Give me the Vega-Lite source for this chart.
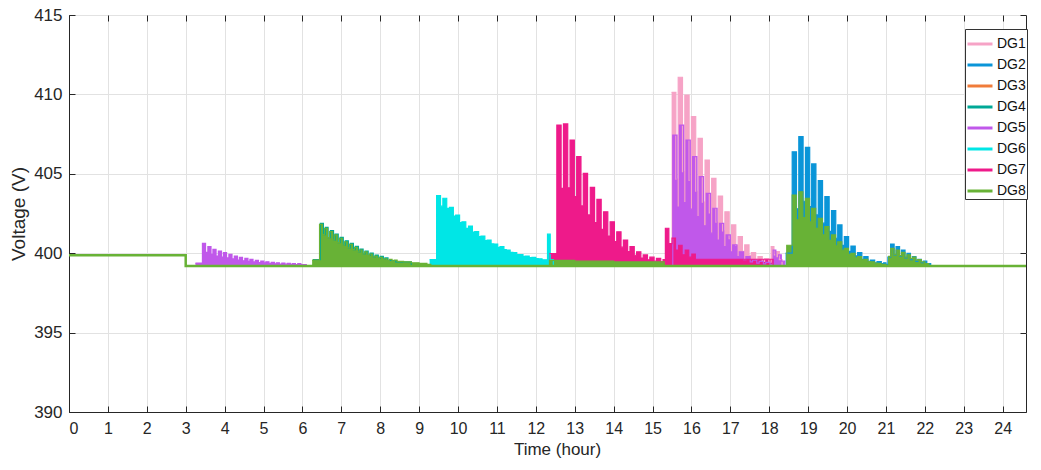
{
  "$schema": "https://vega.github.io/schema/vega-lite/v6.json",
  "width": 957,
  "height": 397,
  "autosize": {"type": "none"},
  "padding": {"left": 69, "top": 15, "right": 15, "bottom": 58},
  "background": "white",
  "config": {
    "view": {"stroke": "#262626", "strokeWidth": 1},
    "font": "Liberation Sans",
    "axis": {
      "labelFont": "Liberation Sans", "titleFont": "Liberation Sans",
      "labelFontSize": 16, "titleFontSize": 17, "titleFontWeight": "normal",
      "labelColor": "#262626", "titleColor": "#262626",
      "gridColor": "#e2e2e2", "gridWidth": 1,
      "domainColor": "#262626", "tickColor": "#262626", "tickSize": -6
    }
  },
  "resolve": {"axis": {"x": "independent", "y": "independent"}},
  "datasets": {
    "ev": [
      {"s":"DG1","t":15.49,"v":410.13},{"s":"DG1","t":15.60,"v":404.67},{"s":"DG1","t":15.66,"v":411.08},{"s":"DG1","t":15.77,"v":405.14},
      {"s":"DG1","t":15.83,"v":409.96},{"s":"DG1","t":15.94,"v":404.58},{"s":"DG1","t":16.00,"v":408.60},{"s":"DG1","t":16.11,"v":403.90},
      {"s":"DG1","t":16.17,"v":407.23},{"s":"DG1","t":16.28,"v":403.22},{"s":"DG1","t":16.35,"v":405.87},{"s":"DG1","t":16.46,"v":402.54},
      {"s":"DG1","t":16.52,"v":404.71},{"s":"DG1","t":16.63,"v":401.96},{"s":"DG1","t":16.69,"v":403.60},{"s":"DG1","t":16.80,"v":401.40},
      {"s":"DG1","t":16.86,"v":402.61},{"s":"DG1","t":16.97,"v":400.91},{"s":"DG1","t":17.03,"v":401.78},{"s":"DG1","t":17.14,"v":400.49},
      {"s":"DG1","t":17.20,"v":401.04},{"s":"DG1","t":17.31,"v":400.12},{"s":"DG1","t":17.37,"v":400.52},{"s":"DG1","t":17.48,"v":399.86},
      {"s":"DG1","t":17.54,"v":400.03},{"s":"DG1","t":17.65,"v":399.62},{"s":"DG1","t":17.71,"v":399.78},{"s":"DG1","t":17.82,"v":399.49},
      {"s":"DG1","t":17.88,"v":399.65},{"s":"DG1","t":17.99,"v":399.43},{"s":"DG1","t":18.05,"v":400.41},{"s":"DG1","t":18.12,"v":399.90},
      {"s":"DG1","t":18.19,"v":400.10},{"s":"DG1","t":18.26,"v":399.60},{"s":"DG1","t":18.33,"v":399.20},

      {"s":"DG2","t":18.42,"v":400.00},{"s":"DG2","t":18.59,"v":406.39},{"s":"DG2","t":18.70,"v":402.80},{"s":"DG2","t":18.76,"v":407.34},
      {"s":"DG2","t":18.87,"v":403.27},{"s":"DG2","t":18.93,"v":406.67},{"s":"DG2","t":19.04,"v":402.94},{"s":"DG2","t":19.09,"v":405.62},
      {"s":"DG2","t":19.20,"v":402.41},{"s":"DG2","t":19.26,"v":404.57},{"s":"DG2","t":19.37,"v":401.89},{"s":"DG2","t":19.43,"v":403.56},
      {"s":"DG2","t":19.54,"v":401.38},{"s":"DG2","t":19.60,"v":402.68},{"s":"DG2","t":19.71,"v":400.94},{"s":"DG2","t":19.76,"v":401.78},
      {"s":"DG2","t":19.87,"v":400.49},{"s":"DG2","t":19.93,"v":401.04},{"s":"DG2","t":20.04,"v":400.12},{"s":"DG2","t":20.10,"v":400.45},
      {"s":"DG2","t":20.21,"v":399.83},{"s":"DG2","t":20.27,"v":400.03},{"s":"DG2","t":20.38,"v":399.62},{"s":"DG2","t":20.43,"v":399.78},
      {"s":"DG2","t":20.54,"v":399.49},{"s":"DG2","t":20.60,"v":399.57},{"s":"DG2","t":20.71,"v":399.39},{"s":"DG2","t":20.77,"v":399.47},
      {"s":"DG2","t":20.88,"v":399.34},{"s":"DG2","t":20.94,"v":399.40},{"s":"DG2","t":21.00,"v":399.30},{"s":"DG2","t":21.05,"v":399.75},
      {"s":"DG2","t":21.12,"v":400.58},{"s":"DG2","t":21.21,"v":399.89},{"s":"DG2","t":21.26,"v":400.41},{"s":"DG2","t":21.35,"v":399.81},
      {"s":"DG2","t":21.40,"v":400.20},{"s":"DG2","t":21.49,"v":399.70},{"s":"DG2","t":21.54,"v":399.99},{"s":"DG2","t":21.63,"v":399.60},
      {"s":"DG2","t":21.68,"v":399.78},{"s":"DG2","t":21.77,"v":399.49},{"s":"DG2","t":21.82,"v":399.62},{"s":"DG2","t":21.91,"v":399.41},
      {"s":"DG2","t":21.96,"v":399.50},{"s":"DG2","t":22.05,"v":399.35},{"s":"DG2","t":22.15,"v":399.20},

      {"s":"DG3","t":3.00,"v":399.20},{"s":"DG3","t":24.60,"v":399.20},

      {"s":"DG4","t":6.27,"v":399.60},{"s":"DG4","t":6.46,"v":401.88},{"s":"DG4","t":6.54,"v":401.17},{"s":"DG4","t":6.59,"v":401.63},
      {"s":"DG4","t":6.66,"v":400.98},{"s":"DG4","t":6.72,"v":401.42},{"s":"DG4","t":6.80,"v":400.82},{"s":"DG4","t":6.84,"v":401.21},
      {"s":"DG4","t":6.92,"v":400.66},{"s":"DG4","t":6.97,"v":401.00},{"s":"DG4","t":7.05,"v":400.51},{"s":"DG4","t":7.10,"v":400.78},
      {"s":"DG4","t":7.18,"v":400.34},{"s":"DG4","t":7.23,"v":400.62},{"s":"DG4","t":7.31,"v":400.22},{"s":"DG4","t":7.36,"v":400.43},
      {"s":"DG4","t":7.44,"v":400.08},{"s":"DG4","t":7.48,"v":400.26},{"s":"DG4","t":7.56,"v":399.95},{"s":"DG4","t":7.61,"v":400.14},
      {"s":"DG4","t":7.69,"v":399.86},{"s":"DG4","t":7.74,"v":400.01},{"s":"DG4","t":7.82,"v":399.76},{"s":"DG4","t":7.87,"v":399.88},
      {"s":"DG4","t":7.95,"v":399.67},{"s":"DG4","t":8.00,"v":399.80},{"s":"DG4","t":8.08,"v":399.61},{"s":"DG4","t":8.12,"v":399.70},
      {"s":"DG4","t":8.20,"v":399.54},{"s":"DG4","t":8.40,"v":399.45},{"s":"DG4","t":8.80,"v":399.20},

      {"s":"DG5","t":3.25,"v":399.38},{"s":"DG5","t":3.43,"v":400.62},{"s":"DG5","t":3.51,"v":400.05},{"s":"DG5","t":3.57,"v":400.41},
      {"s":"DG5","t":3.65,"v":399.93},{"s":"DG5","t":3.70,"v":400.24},{"s":"DG5","t":3.78,"v":399.82},{"s":"DG5","t":3.84,"v":400.14},
      {"s":"DG5","t":3.92,"v":399.76},{"s":"DG5","t":3.97,"v":400.03},{"s":"DG5","t":4.05,"v":399.70},{"s":"DG5","t":4.11,"v":399.93},
      {"s":"DG5","t":4.19,"v":399.64},{"s":"DG5","t":4.25,"v":399.82},{"s":"DG5","t":4.33,"v":399.57},{"s":"DG5","t":4.38,"v":399.74},
      {"s":"DG5","t":4.46,"v":399.52},{"s":"DG5","t":4.52,"v":399.67},{"s":"DG5","t":4.60,"v":399.48},{"s":"DG5","t":4.65,"v":399.61},
      {"s":"DG5","t":4.73,"v":399.45},{"s":"DG5","t":4.79,"v":399.55},{"s":"DG5","t":4.87,"v":399.41},{"s":"DG5","t":4.93,"v":399.51},
      {"s":"DG5","t":5.01,"v":399.39},{"s":"DG5","t":5.06,"v":399.46},{"s":"DG5","t":5.14,"v":399.36},{"s":"DG5","t":5.20,"v":399.42},
      {"s":"DG5","t":5.28,"v":399.33},{"s":"DG5","t":5.33,"v":399.40},{"s":"DG5","t":5.41,"v":399.32},{"s":"DG5","t":5.47,"v":399.38},
      {"s":"DG5","t":5.55,"v":399.31},{"s":"DG5","t":5.61,"v":399.36},{"s":"DG5","t":5.69,"v":399.30},{"s":"DG5","t":5.74,"v":399.35},
      {"s":"DG5","t":5.82,"v":399.29},{"s":"DG5","t":5.88,"v":399.34},{"s":"DG5","t":5.96,"v":399.28},{"s":"DG5","t":6.10,"v":399.20},
      {"s":"DG5","t":15.52,"v":407.44},{"s":"DG5","t":15.63,"v":402.91},{"s":"DG5","t":15.69,"v":408.07},{"s":"DG5","t":15.80,"v":403.19},
      {"s":"DG5","t":15.86,"v":407.13},{"s":"DG5","t":15.97,"v":402.77},{"s":"DG5","t":16.03,"v":406.08},{"s":"DG5","t":16.14,"v":402.30},
      {"s":"DG5","t":16.20,"v":404.82},{"s":"DG5","t":16.31,"v":401.73},{"s":"DG5","t":16.38,"v":403.77},{"s":"DG5","t":16.49,"v":401.26},
      {"s":"DG5","t":16.55,"v":402.83},{"s":"DG5","t":16.66,"v":400.83},{"s":"DG5","t":16.72,"v":401.88},{"s":"DG5","t":16.83,"v":400.41},
      {"s":"DG5","t":16.89,"v":401.15},{"s":"DG5","t":17.00,"v":400.08},{"s":"DG5","t":17.06,"v":400.52},{"s":"DG5","t":17.17,"v":399.79},
      {"s":"DG5","t":17.23,"v":400.09},{"s":"DG5","t":17.34,"v":399.60},{"s":"DG5","t":17.40,"v":399.78},{"s":"DG5","t":17.51,"v":399.46},
      {"s":"DG5","t":17.57,"v":399.57},{"s":"DG5","t":17.68,"v":399.37},{"s":"DG5","t":17.74,"v":399.48},{"s":"DG5","t":17.85,"v":399.33},
      {"s":"DG5","t":17.91,"v":399.42},{"s":"DG5","t":18.02,"v":399.30},{"s":"DG5","t":18.10,"v":400.20},{"s":"DG5","t":18.17,"v":399.70},
      {"s":"DG5","t":18.24,"v":399.90},{"s":"DG5","t":18.31,"v":399.50},{"s":"DG5","t":18.40,"v":399.20},

      {"s":"DG6","t":9.27,"v":399.60},{"s":"DG6","t":9.45,"v":403.62},{"s":"DG6","t":9.55,"v":402.96},{"s":"DG6","t":9.61,"v":403.46},
      {"s":"DG6","t":9.71,"v":402.82},{"s":"DG6","t":9.78,"v":402.89},{"s":"DG6","t":9.88,"v":402.34},{"s":"DG6","t":9.94,"v":402.40},
      {"s":"DG6","t":10.04,"v":401.92},{"s":"DG6","t":10.10,"v":401.98},{"s":"DG6","t":10.20,"v":401.56},{"s":"DG6","t":10.27,"v":401.71},
      {"s":"DG6","t":10.37,"v":401.33},{"s":"DG6","t":10.43,"v":401.36},{"s":"DG6","t":10.53,"v":401.04},{"s":"DG6","t":10.59,"v":401.08},
      {"s":"DG6","t":10.69,"v":400.80},{"s":"DG6","t":10.75,"v":400.83},{"s":"DG6","t":10.85,"v":400.59},{"s":"DG6","t":10.92,"v":400.58},
      {"s":"DG6","t":11.02,"v":400.37},{"s":"DG6","t":11.08,"v":400.41},{"s":"DG6","t":11.18,"v":400.23},{"s":"DG6","t":11.24,"v":400.20},
      {"s":"DG6","t":11.34,"v":400.05},{"s":"DG6","t":11.41,"v":400.03},{"s":"DG6","t":11.51,"v":399.91},{"s":"DG6","t":11.57,"v":399.91},
      {"s":"DG6","t":11.67,"v":399.80},{"s":"DG6","t":11.73,"v":399.82},{"s":"DG6","t":11.83,"v":399.73},{"s":"DG6","t":11.90,"v":399.74},
      {"s":"DG6","t":12.00,"v":399.66},{"s":"DG6","t":12.06,"v":399.65},{"s":"DG6","t":12.16,"v":399.58},{"s":"DG6","t":12.30,"v":401.20},
      {"s":"DG6","t":12.37,"v":399.60},{"s":"DG6","t":12.45,"v":399.20},

      {"s":"DG7","t":12.35,"v":399.98},{"s":"DG7","t":12.54,"v":408.07},{"s":"DG7","t":12.65,"v":404.08},{"s":"DG7","t":12.71,"v":408.14},
      {"s":"DG7","t":12.82,"v":404.12},{"s":"DG7","t":12.88,"v":407.13},{"s":"DG7","t":12.99,"v":403.56},{"s":"DG7","t":13.05,"v":406.08},
      {"s":"DG7","t":13.16,"v":402.98},{"s":"DG7","t":13.22,"v":405.03},{"s":"DG7","t":13.33,"v":402.41},{"s":"DG7","t":13.40,"v":404.15},
      {"s":"DG7","t":13.51,"v":401.92},{"s":"DG7","t":13.57,"v":403.39},{"s":"DG7","t":13.68,"v":401.50},{"s":"DG7","t":13.74,"v":402.61},
      {"s":"DG7","t":13.85,"v":401.08},{"s":"DG7","t":13.91,"v":401.98},{"s":"DG7","t":14.02,"v":400.73},{"s":"DG7","t":14.08,"v":401.35},
      {"s":"DG7","t":14.19,"v":400.38},{"s":"DG7","t":14.25,"v":400.83},{"s":"DG7","t":14.36,"v":400.10},{"s":"DG7","t":14.42,"v":400.41},
      {"s":"DG7","t":14.53,"v":399.87},{"s":"DG7","t":14.59,"v":400.09},{"s":"DG7","t":14.70,"v":399.69},{"s":"DG7","t":14.76,"v":399.89},
      {"s":"DG7","t":14.87,"v":399.58},{"s":"DG7","t":14.93,"v":399.75},{"s":"DG7","t":15.04,"v":399.50},{"s":"DG7","t":15.10,"v":399.67},
      {"s":"DG7","t":15.21,"v":399.46},{"s":"DG7","t":15.27,"v":399.60},{"s":"DG7","t":15.30,"v":399.42},{"s":"DG7","t":15.33,"v":401.57},
      {"s":"DG7","t":15.42,"v":400.60},{"s":"DG7","t":15.50,"v":400.95},{"s":"DG7","t":15.59,"v":400.20},{"s":"DG7","t":15.67,"v":400.50},
      {"s":"DG7","t":15.76,"v":399.90},{"s":"DG7","t":15.84,"v":400.20},{"s":"DG7","t":15.93,"v":399.75},{"s":"DG7","t":16.01,"v":399.95},
      {"s":"DG7","t":16.10,"v":399.62},{"s":"DG7","t":18.02,"v":399.62},{"s":"DG7","t":18.10,"v":399.20},

      {"s":"DG8","t":6.25,"v":399.57},{"s":"DG8","t":6.44,"v":401.82},{"s":"DG8","t":6.515,"v":401.17},{"s":"DG8","t":6.57,"v":401.57},
      {"s":"DG8","t":6.645,"v":400.98},{"s":"DG8","t":6.70,"v":401.36},{"s":"DG8","t":6.775,"v":400.82},{"s":"DG8","t":6.82,"v":401.15},
      {"s":"DG8","t":6.895,"v":400.66},{"s":"DG8","t":6.95,"v":400.94},{"s":"DG8","t":7.025,"v":400.51},{"s":"DG8","t":7.08,"v":400.72},
      {"s":"DG8","t":7.155,"v":400.34},{"s":"DG8","t":7.21,"v":400.56},{"s":"DG8","t":7.285,"v":400.22},{"s":"DG8","t":7.34,"v":400.37},
      {"s":"DG8","t":7.415,"v":400.08},{"s":"DG8","t":7.46,"v":400.20},{"s":"DG8","t":7.535,"v":399.95},{"s":"DG8","t":7.59,"v":400.08},
      {"s":"DG8","t":7.665,"v":399.86},{"s":"DG8","t":7.72,"v":399.95},{"s":"DG8","t":7.795,"v":399.76},{"s":"DG8","t":7.85,"v":399.82},
      {"s":"DG8","t":7.925,"v":399.67},{"s":"DG8","t":7.98,"v":399.74},{"s":"DG8","t":8.055,"v":399.61},{"s":"DG8","t":8.10,"v":399.65},
      {"s":"DG8","t":8.175,"v":399.54},{"s":"DG8","t":8.23,"v":399.61},{"s":"DG8","t":8.305,"v":399.51},{"s":"DG8","t":8.36,"v":399.57},
      {"s":"DG8","t":8.435,"v":399.48},{"s":"DG8","t":8.60,"v":399.45},{"s":"DG8","t":8.80,"v":399.40},{"s":"DG8","t":9.00,"v":399.36},
      {"s":"DG8","t":9.20,"v":399.30},{"s":"DG8","t":9.30,"v":399.20},
      {"s":"DG8","t":12.35,"v":399.55},{"s":"DG8","t":13.00,"v":399.50},{"s":"DG8","t":14.00,"v":399.45},{"s":"DG8","t":15.30,"v":399.20},
      {"s":"DG8","t":18.45,"v":400.50},{"s":"DG8","t":18.59,"v":403.66},{"s":"DG8","t":18.695,"v":402.10},{"s":"DG8","t":18.76,"v":403.87},
      {"s":"DG8","t":18.865,"v":402.24},{"s":"DG8","t":18.93,"v":403.46},{"s":"DG8","t":19.035,"v":401.97},{"s":"DG8","t":19.09,"v":402.83},
      {"s":"DG8","t":19.195,"v":401.56},{"s":"DG8","t":19.26,"v":402.20},{"s":"DG8","t":19.365,"v":401.15},{"s":"DG8","t":19.43,"v":401.67},
      {"s":"DG8","t":19.535,"v":400.81},{"s":"DG8","t":19.60,"v":401.15},{"s":"DG8","t":19.705,"v":400.47},{"s":"DG8","t":19.76,"v":400.72},
      {"s":"DG8","t":19.865,"v":400.19},{"s":"DG8","t":19.93,"v":400.31},{"s":"DG8","t":20.035,"v":399.92},{"s":"DG8","t":20.10,"v":399.99},
      {"s":"DG8","t":20.205,"v":399.71},{"s":"DG8","t":20.27,"v":399.78},{"s":"DG8","t":20.375,"v":399.58},{"s":"DG8","t":20.43,"v":399.61},
      {"s":"DG8","t":20.535,"v":399.47},{"s":"DG8","t":20.60,"v":399.46},{"s":"DG8","t":20.705,"v":399.37},{"s":"DG8","t":20.77,"v":399.36},
      {"s":"DG8","t":20.875,"v":399.30},{"s":"DG8","t":21.00,"v":399.20},{"s":"DG8","t":21.07,"v":399.80},{"s":"DG8","t":21.12,"v":400.31},
      {"s":"DG8","t":21.21,"v":399.92},{"s":"DG8","t":21.26,"v":400.20},{"s":"DG8","t":21.35,"v":399.85},{"s":"DG8","t":21.40,"v":400.05},
      {"s":"DG8","t":21.49,"v":399.75},{"s":"DG8","t":21.54,"v":399.90},{"s":"DG8","t":21.63,"v":399.66},{"s":"DG8","t":21.68,"v":399.75},
      {"s":"DG8","t":21.77,"v":399.56},{"s":"DG8","t":21.82,"v":399.60},{"s":"DG8","t":21.91,"v":399.46},{"s":"DG8","t":22.00,"v":399.35},
      {"s":"DG8","t":22.10,"v":399.20}
    ],
    "base": [
      {"s":"DG8","t":0,"v":399.87},{"s":"DG8","t":3.0,"v":399.2},{"s":"DG8","t":24.6,"v":399.2}
    ]
  },
  "layer": [
    {
      "data": {"name": "ev"},
      "mark": {"type": "area", "interpolate": "step-after", "opacity": 1, "line": {"strokeWidth": 1.2}},
      "encoding": {
        "x": {"field": "t", "type": "quantitative",
              "scale": {"domain": [0, 24.6], "nice": false, "zero": false},
              "axis": {"title": "Time (hour)", "values": [0,1,2,3,4,5,6,7,8,9,10,11,12,13,14,15,16,17,18,19,20,21,22,23,24], "tickCount": 25, "grid": true, "labelOverlap": false, "labelPadding": 14, "titlePadding": 5, "titleX": 488, "labelFontSize": 16, "titleFontSize": 17}},
        "y": {"field": "v", "type": "quantitative", "stack": null,
              "scale": {"domain": [390, 415], "nice": false, "zero": false},
              "axis": {"title": "Voltage (V)", "values": [390,395,400,405,410,415], "grid": true, "labelOverlap": false, "labelPadding": 13, "titlePadding": 5, "labelFontSize": 17, "titleFontSize": 19}},
        "y2": {"datum": 399.2},
        "color": {"field": "s", "type": "nominal",
                  "scale": {"domain": ["DG1","DG2","DG3","DG4","DG5","DG6","DG7","DG8"],
                            "range": ["#f6a3c6","#0a95d8","#f07c3a","#00a896","#c058ea","#00e6e6","#ee1a8a","#68b236"]},
                  "legend": {"title": null, "orient": "none", "legendX": 896, "legendY": 14,
                             "symbolType": "stroke", "symbolStrokeWidth": 3, "symbolSize": 625,
                             "labelFont": "Liberation Sans", "labelFontSize": 14, "labelColor": "#111111",
                             "labelOffset": 3, "padding": 1, "rowPadding": -4,
                             "strokeColor": "#333333", "fillColor": "white",
                             "encode": {"symbols": {"update": {"stroke": {"scale": "color", "field": "value"}, "strokeWidth": {"value": 3}}}}}}
      }
    },
    {
      "data": {"name": "base"},
      "mark": {"type": "line", "interpolate": "step-after", "strokeWidth": 2.5},
      "encoding": {
        "x": {"field": "t", "type": "quantitative",
              "axis": {"orient": "top", "title": null, "labels": false, "grid": false, "domain": false, "values": [0,1,2,3,4,5,6,7,8,9,10,11,12,13,14,15,16,17,18,19,20,21,22,23,24], "tickSize": -6}},
        "y": {"field": "v", "type": "quantitative",
              "axis": {"orient": "right", "title": null, "labels": false, "grid": false, "domain": false, "values": [390,395,400,405,410,415], "tickSize": -6}},
        "color": {"field": "s", "type": "nominal"}
      }
    }
  ]
}
